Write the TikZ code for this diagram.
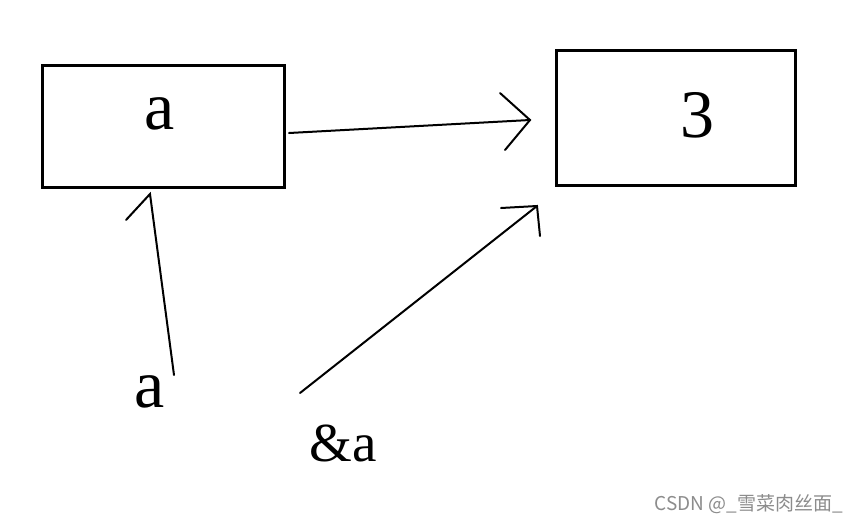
\documentclass[tikz,border=0pt]{standalone}
\usepackage{fontspec}
\setmainfont{Liberation Serif}
\newfontfamily\cjkfont{Noto Sans CJK SC}
\usepackage{tikz}

\tikzset{
  varbox/.style={draw, line width=3pt, minimum width=#1, inner sep=0pt},
  bigtext/.style={font=\fontsize{68}{70}\selectfont, inner sep=0pt},
  pen/.style={line width=2pt, line cap=round}
}

\begin{document}
\begin{tikzpicture}[x=1pt, y=-1pt]
        \useasboundingbox[fill=white] (0,0) rectangle (857,523);
        % the two boxes
        \node[varbox=242pt, minimum height=122pt] (boxa) at (163,126) {};
        \node[varbox=239pt, minimum height=135pt] (boxn) at (675.5,117.5) {};
        \node[bigtext] (vala) at (160,114) {a};
        \node[bigtext] (valn) at (697,115) {3};
        % labels below
        \node[bigtext] (namea) at (150,392) {a};
        \node[bigtext, font=\fontsize{55}{58}\selectfont] (addra) at (343,443) {\&a};
        % arrow a -> 3
        \coordinate (s1) at (289,133);
        \coordinate (t1) at (530,120);
        \draw[pen] (s1) -- (t1);
        \draw[pen] (500,93) -- (t1) -- (505,150);
        % arrow name -> box
        \coordinate (s2) at (174,375);
        \coordinate (t2) at (150,194);
        \draw[pen] (s2) -- (t2) -- (126,220);
        % arrow &a -> 3
        \coordinate (s3) at (300,393);
        \coordinate (t3) at (537,206);
        \draw[pen] (s3) -- (t3);
        \draw[pen] (501,208) -- (t3) -- (540,236);
        % watermark
        \node[text=black!45, font=\cjkfont\fontsize{19}{21}\selectfont, anchor=east, inner sep=0pt] (mark) at (843,504) {CSDN @\_雪菜肉丝面\_};
    \end{tikzpicture}
\end{document}
